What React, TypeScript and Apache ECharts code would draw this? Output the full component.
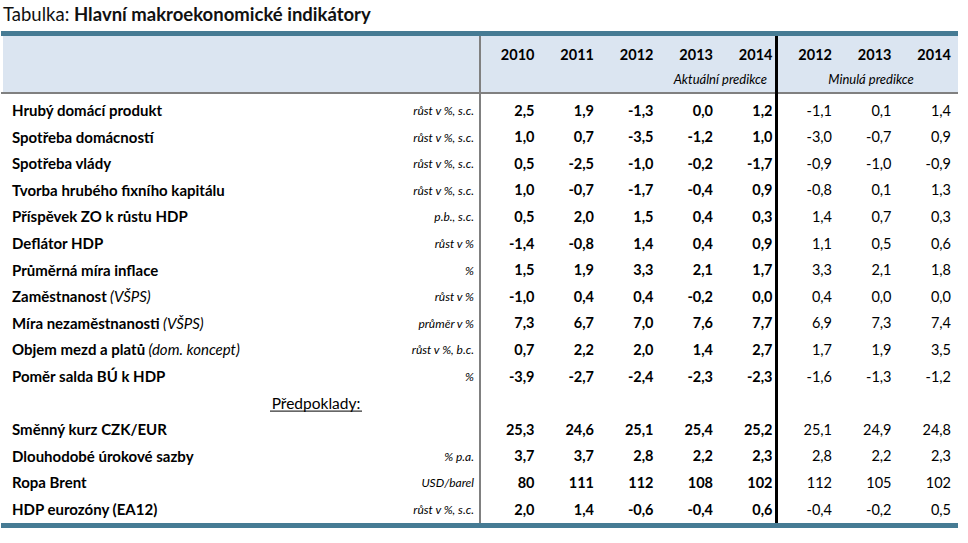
import React, { useEffect, useRef } from "react";
import * as echarts from "echarts";

const FONT = 'Lato, "Noto Sans", sans-serif';

// ---- data ----
const rowLabels = [
  "Hrubý domácí produkt",
  "Spotřeba domácností",
  "Spotřeba vlády",
  "Tvorba hrubého fixního kapitálu",
  "Příspěvek ZO k růstu HDP",
  "Deflátor HDP",
  "Průměrná míra inflace",
  "Zaměstnanost",
  "Míra nezaměstnanosti",
  "Objem mezd a platů",
  "Poměr salda BÚ k HDP",
  "Předpoklady:",
  "Směnný kurz CZK/EUR",
  "Dlouhodobé úrokové sazby",
  "Ropa Brent",
  "HDP eurozóny (EA12)",
];
const rowNotes = ["", "", "", "", "", "", "", "(VŠPS)", "(VŠPS)", "(dom. koncept)", "", "", "", "", "", ""];
const rowUnits = [
  "růst v %, s.c.",
  "růst v %, s.c.",
  "růst v %, s.c.",
  "růst v %, s.c.",
  "p.b., s.c.",
  "růst v %",
  "%",
  "růst v %",
  "průměr v %",
  "růst v %, b.c.",
  "%",
  "",
  "",
  "% p.a.",
  "USD/barel",
  "růst v %, s.c.",
];
const rowDecimals = [1, 1, 1, 1, 1, 1, 1, 1, 1, 1, 1, 1, 1, 1, 0, 1];
const assumptionsRow = 11;

const columnYears = ["2010", "2011", "2012", "2013", "2014", "2012", "2013", "2014"];
const columnKeys = ["A2010", "A2011", "A2012", "A2013", "A2014", "M2012", "M2013", "M2014"];
const columnBold = [true, true, true, true, true, false, false, false];

const act2010 = [2.5, 1.0, 0.5, 1.0, 0.5, -1.4, 1.5, -1.0, 7.3, 0.7, -3.9, null, 25.3, 3.7, 80, 2.0];
const act2011 = [1.9, 0.7, -2.5, -0.7, 2.0, -0.8, 1.9, 0.4, 6.7, 2.2, -2.7, null, 24.6, 3.7, 111, 1.4];
const act2012 = [-1.3, -3.5, -1.0, -1.7, 1.5, 1.4, 3.3, 0.4, 7.0, 2.0, -2.4, null, 25.1, 2.8, 112, -0.6];
const act2013 = [0.0, -1.2, -0.2, -0.4, 0.4, 0.4, 2.1, -0.2, 7.6, 1.4, -2.3, null, 25.4, 2.2, 108, -0.4];
const act2014 = [1.2, 1.0, -1.7, 0.9, 0.3, 0.9, 1.7, 0.0, 7.7, 2.7, -2.3, null, 25.2, 2.3, 102, 0.6];
const prev2012 = [-1.1, -3.0, -0.9, -0.8, 1.4, 1.1, 3.3, 0.4, 6.9, 1.7, -1.6, null, 25.1, 2.8, 112, -0.4];
const prev2013 = [0.1, -0.7, -1.0, 0.1, 0.7, 0.5, 2.1, 0.0, 7.3, 1.9, -1.3, null, 24.9, 2.2, 105, -0.2];
const prev2014 = [1.4, 0.9, -0.9, 1.3, 0.3, 0.6, 1.8, 0.0, 7.4, 3.5, -1.2, null, 24.8, 2.3, 102, 0.5];

const columns = [act2010, act2011, act2012, act2013, act2014, prev2012, prev2013, prev2014];

function fmt(v: number, d: number) {
  return v.toFixed(d).replace(".", ",");
}

type Cell = { col: number; row: number; text: string; bold: boolean };
const cells: Cell[] = [];
columns.forEach((arr, c) => {
  arr.forEach((v, r) => {
    if (v === null || v === undefined) return;
    cells.push({ col: c, row: r, text: fmt(v as number, rowDecimals[r]), bold: columnBold[c] });
  });
});

const BLUE = "#467b94";
const GRAY = "#808080";

export default function App() {
  const ref = useRef<HTMLDivElement>(null);
  useEffect(() => {
    const chart = echarts.init(ref.current!, null, { renderer: "svg" });
    const option: any = {
      animation: false,
      backgroundColor: "#ffffff",
      grid: { left: 478.5, right: 13.5, top: 96.7, bottom: 20.7, containLabel: false },
      xAxis: { type: "category", data: columnKeys, show: false },
      yAxis: { type: "category", data: rowLabels, inverse: true, show: false },
      graphic: [
        {
          type: "text",
          x: 3,
          y: 14,
          z: 5,
          style: {
            text: "{r|Tabulka: }{b|Hlavní makroekonomické indikátory}",
            verticalAlign: "middle",
            rich: {
              r: { fontFamily: FONT, fontSize: 18.5, fill: "#111" },
              b: { fontFamily: FONT, fontSize: 18.5, fontWeight: "bold", fill: "#111" },
            },
          },
        },
        { type: "rect", z: 0, shape: { x: 3, y: 36, width: 955, height: 56 }, style: { fill: "#dbe5f1" } },
        { type: "rect", z: 1, shape: { x: 1, y: 31, width: 957, height: 5 }, style: { fill: BLUE } },
        { type: "rect", z: 1, shape: { x: 1, y: 92, width: 957, height: 2 }, style: { fill: GRAY } },
        { type: "rect", z: 1, shape: { x: 479, y: 36, width: 2, height: 487 }, style: { fill: GRAY } },
        { type: "rect", z: 1, shape: { x: 775, y: 36, width: 3, height: 487 }, style: { fill: "#000" } },
        { type: "rect", z: 1, shape: { x: 1, y: 523, width: 957, height: 5 }, style: { fill: BLUE } },
        {
          type: "text",
          z: 5,
          x: 767,
          y: 79,
          style: {
            text: "Aktuální predikce",
            align: "right",
            verticalAlign: "middle",
            fontFamily: FONT,
            fontSize: 13,
            fontStyle: "italic",
            fill: "#000",
          },
        },
        {
          type: "text",
          z: 5,
          x: 871,
          y: 79,
          style: {
            text: "Minulá predikce",
            align: "center",
            verticalAlign: "middle",
            fontFamily: FONT,
            fontSize: 13,
            fontStyle: "italic",
            fill: "#000",
          },
        },
      ],
      series: [
        {
          type: "custom",
          name: "values",
          clip: false,
          z: 3,
          data: cells.map((c) => [c.col, c.row]),
          renderItem: (params: any, api: any) => {
            const c = cells[params.dataIndex];
            const pt = api.coord([c.col, c.row]);
            const size = api.size([1, 1]);
            return {
              type: "text",
              x: pt[0] + size[0] / 2 - 3.5,
              y: pt[1],
              style: {
                text: c.text,
                align: "right",
                verticalAlign: "middle",
                fontFamily: FONT,
                fontSize: 14.5,
                fontWeight: c.bold ? "bold" : "normal",
                fill: "#000",
              },
            };
          },
        },
        {
          type: "custom",
          name: "header",
          clip: false,
          z: 3,
          data: columnYears.map((_, i) => [i, 0]),
          renderItem: (params: any, api: any) => {
            const i = params.dataIndex;
            const pt = api.coord([i, 0]);
            const size = api.size([1, 1]);
            return {
              type: "text",
              x: pt[0] + size[0] / 2 - 3.5,
              y: pt[1] - 56,
              style: {
                text: columnYears[i],
                align: "right",
                verticalAlign: "middle",
                fontFamily: FONT,
                fontSize: 14.5,
                fontWeight: "bold",
                fill: "#000",
              },
            };
          },
        },
        {
          type: "custom",
          name: "rows",
          clip: false,
          z: 3,
          data: rowLabels.map((_, i) => [0, i]),
          renderItem: (params: any, api: any) => {
            const i = params.dataIndex;
            const y = api.coord([0, i])[1];
            if (i === assumptionsRow) {
              return {
                type: "group",
                children: [
                  {
                    type: "text",
                    x: 316,
                    y,
                    style: {
                      text: rowLabels[i],
                      align: "center",
                      verticalAlign: "middle",
                      fontFamily: FONT,
                      fontSize: 15.5,
                      fill: "#000",
                    },
                  },
                  {
                    type: "line",
                    shape: { x1: 270, y1: y + 8.5, x2: 362, y2: y + 8.5 },
                    style: { stroke: "#000", lineWidth: 1 },
                  },
                ],
              };
            }
            const note = rowNotes[i];
            return {
              type: "group",
              children: [
                {
                  type: "text",
                  x: 12,
                  y,
                  style: {
                    text: note ? `{b|${rowLabels[i]}} {i|${note}}` : `{b|${rowLabels[i]}}`,
                    align: "left",
                    verticalAlign: "middle",
                    rich: {
                      b: { fontFamily: FONT, fontSize: 15, fontWeight: "bold", fill: "#000" },
                      i: { fontFamily: FONT, fontSize: 15, fontStyle: "italic", fill: "#000" },
                    },
                  },
                },
                {
                  type: "text",
                  x: 474,
                  y: y + 0.5,
                  style: {
                    text: rowUnits[i],
                    align: "right",
                    verticalAlign: "middle",
                    fontFamily: FONT,
                    fontSize: 12,
                    fontStyle: "italic",
                    fill: "#000",
                  },
                },
              ],
            };
          },
        },
      ],
    };
    chart.setOption(option);
    return () => chart.dispose();
  }, []);
  return (
    <div
      ref={ref}
      style={{ position: "fixed", left: 0, top: 0, width: 968, height: 543, background: "#fff" }}
    />
  );
}
